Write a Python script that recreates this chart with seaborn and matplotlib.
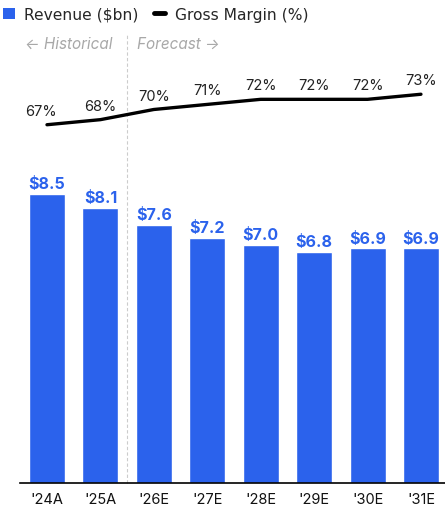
import matplotlib
matplotlib.use("Agg")
import matplotlib.pyplot as plt
from matplotlib.patches import Patch
from matplotlib.lines import Line2D
import seaborn as sns
import pandas as pd

years = ["'24A", "'25A", "'26E", "'27E", "'28E", "'29E", "'30E", "'31E"]
revenue = [8.5, 8.1, 7.6, 7.2, 7.0, 6.8, 6.9, 6.9]
gross_margin = [67, 68, 70, 71, 72, 72, 72, 73]

BLUE = "#2B62EC"
GREY = "#A8A8A8"

sns.set_theme(style="white")
plt.rcParams["font.family"] = ["Inter", "DejaVu Sans"]

df = pd.DataFrame({"year": years, "revenue": revenue, "margin": gross_margin,
                   "pos": range(len(years))})

W, H = 445, 510
fig = plt.figure(figsize=(W / 100, H / 100), dpi=100)
ax = fig.add_axes([20 / W, (H - 484) / H, 425 / W, 404 / H])

sns.barplot(data=df, x="year", y="revenue", color=BLUE, width=0.674,
            saturation=1, ax=ax)
ax.set_xlim(-0.505, 7.45)
ax.set_ylim(0, 11.88)

for i, v in enumerate(revenue):
    ax.annotate(f"${v:.1f}", (i, v), xytext=(0, 2), textcoords="offset points",
                ha="center", va="bottom", color=BLUE, fontsize=11.5,
                fontweight="bold")

ax2 = ax.twinx()
sns.lineplot(data=df, x="pos", y="margin", color="black", linewidth=2.4,
             ax=ax2)
ax2.set_ylim(-3.5, 76)
ax2.set_xlim(-0.505, 7.45)
for i, m in enumerate(gross_margin):
    ax2.annotate(f"{m}%", (i, m), xytext=(-4 if i == 0 else 0, 5),
                 textcoords="offset points", ha="center", va="bottom",
                 color="#222222", fontsize=10.5)

for a in (ax, ax2):
    a.set_xlabel("")
    a.set_ylabel("")
    a.set_yticks([])
    for s in ("top", "right", "left"):
        a.spines[s].set_visible(False)
ax2.spines["bottom"].set_visible(False)
ax.spines["bottom"].set_color("black")
ax.spines["bottom"].set_linewidth(1.2)
ax.tick_params(axis="x", length=0, pad=6.5, labelsize=10.5, labelcolor="#111111")

# historical / forecast divider
ax.axvline(1.5, ymin=0, ymax=1.11, color="#CCCCCC", linestyle=(0, (3, 2)),
           linewidth=0.8, clip_on=False)
fig.text(25 / W, 1 - 44 / H, "\u2190 Historical", color=GREY, style="italic",
         fontsize=11, ha="left", va="center")
fig.text(137 / W, 1 - 44 / H, "Forecast \u2192", color=GREY, style="italic",
         fontsize=11, ha="left", va="center")

handles = [Patch(facecolor=BLUE, edgecolor="none"),
           Line2D([0], [0], color="black", linewidth=3.5)]
fig.legend(handles, ["Revenue ($bn)", "Gross Margin (%)"], loc="upper left",
           bbox_to_anchor=(-0.025, 1.012), ncol=2, frameon=False,
           prop={"family": "DejaVu Sans", "size": 11.2},
           handlelength=0.75, handleheight=0.75, handletextpad=0.6,
           columnspacing=1.0)

fig.savefig("out.png", dpi=100, facecolor="white")
